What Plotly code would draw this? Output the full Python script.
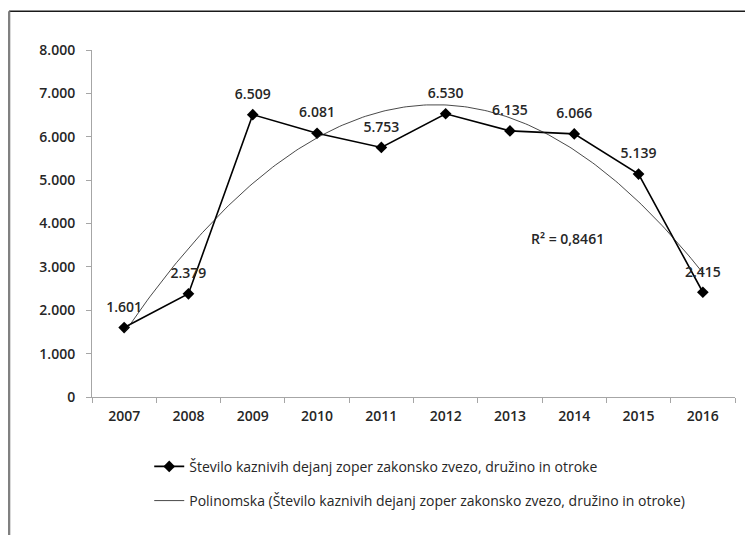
import numpy as np
import plotly.graph_objects as go

years = ["2007", "2008", "2009", "2010", "2011", "2012", "2013", "2014", "2015", "2016"]
values = [1601, 2379, 6509, 6081, 5753, 6530, 6135, 6066, 5139, 2415]
series_name = "Število kaznivih dejanj zoper zakonsko zvezo, družino in otroke"
trend_name = "Polinomska (Število kaznivih dejanj zoper zakonsko zvezo, družino in otroke)"
r2_text = "R² = 0,8461"
y_ticks = [0, 1000, 2000, 3000, 4000, 5000, 6000, 7000, 8000]

# polynomial (order 2) trendline fitted to the data
idx = np.arange(len(values))
coef = np.polyfit(idx, values, 2)
xs = np.linspace(0, len(values) - 1, 200)
ys = np.polyval(coef, xs)

FONT = "Open Sans"
TXT = "#262626"
labels = [f"{v:,}".replace(",", ".") for v in values]

fig = go.Figure()
fig.add_trace(go.Scatter(
    x=xs, y=ys, mode="lines", xaxis="x2",
    name=trend_name, legendgroup="b", legendrank=2,
    line=dict(color="#1a1a1a", width=0.8),
    hoverinfo="skip",
))
fig.add_trace(go.Scatter(
    x=years, y=values, mode="lines+markers",
    name=series_name, legendgroup="a", legendrank=1,
    line=dict(color="#000000", width=1.6),
    marker=dict(symbol="diamond", size=9, color="#000000"),
))
# data labels (transparent larger marker gives the label offset)
fig.add_trace(go.Scatter(
    x=years, y=values, mode="markers+text", showlegend=False,
    marker=dict(size=18, color="rgba(0,0,0,0)"),
    text=labels, textposition="top center",
    textfont=dict(family=FONT, size=14, color=TXT, weight=600),
    cliponaxis=False, hoverinfo="skip",
))

fig.add_annotation(
    text=r2_text, x=6.9, y=3665, xref="x2", yref="y", showarrow=False,
    xanchor="center", font=dict(family=FONT, size=14, color=TXT, weight=600),
)

# chart frame (top and left edges)
fig.add_shape(type="line", xref="paper", yref="paper",
              x0=-0.129, x1=1.03, y0=1.112, y1=1.112,
              line=dict(color="#1a1a1a", width=1.5))
fig.add_shape(type="line", xref="paper", yref="paper",
              x0=-0.129, x1=-0.129, y0=1.112, y1=-0.40,
              line=dict(color="#808080", width=2.5))

fig.update_layout(
    width=745, height=527,
    margin=dict(l=84, r=18, t=42, b=138),
    paper_bgcolor="white", plot_bgcolor="white",
    separators=",.",
    font=dict(family=FONT, color=TXT),
    showlegend=True,
    legend=dict(
        x=0.089, y=-0.155, xanchor="left", yanchor="top",
        font=dict(family=FONT, size=14, color=TXT),
        tracegroupgap=13, bgcolor="rgba(0,0,0,0)",
    ),
    xaxis=dict(
        type="category", range=[-0.5, 9.5], tickson="boundaries",
        showline=True, linecolor="#a6a6a6", linewidth=1,
        ticks="outside", ticklen=5, tickcolor="#a6a6a6",
        showgrid=False, zeroline=False, ticklabelstandoff=6,
        tickfont=dict(family=FONT, size=14, color=TXT, weight=600),
    ),
    xaxis2=dict(
        overlaying="x", range=[-0.5, 9.5], visible=False,
    ),
    yaxis=dict(
        range=[0, 8000], tickvals=y_ticks, tickformat=",.0f",
        showline=True, linecolor="#a6a6a6", linewidth=1,
        ticks="outside", ticklen=5, tickcolor="#a6a6a6",
        showgrid=False, zeroline=False, ticklabelstandoff=8,
        tickfont=dict(family=FONT, size=14, color=TXT, weight=600),
    ),
)

fig.write_html("out.html")
